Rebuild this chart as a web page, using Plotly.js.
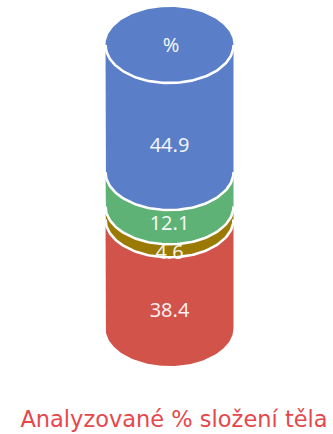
<!DOCTYPE html>
<html>
<head>
<meta charset="utf-8">
<script src="https://cdn.plot.ly/plotly-3.0.1.min.js"></script>
<style>
  html, body { margin: 0; padding: 0; background: #ffffff; }
  #chart { width: 333px; height: 434px; }
</style>
</head>
<body>
<div id="chart"></div>
<script>
// Body composition shares, stacked from the bottom of the cylinder upwards
const segmentValues = [38.4, 4.6, 12.1, 44.9];
const segmentLabels = segmentValues.map(v => v.toFixed(1));
const capLabel = '%';
const chartTitle = 'Analyzované % složení těla';

// Styling
const segmentColors = ['#d2534a', '#9a7a03', '#5fb275', '#5a7fc8'];
const labelColor = 'rgba(255,255,255,0.93)';
const titleColor = '#e5484c';
const labelSize = 20;

// Cylinder geometry: x axis runs 0..333, y axis is in percentage units
const W = 333, H = 434;
const cx = 169.5, rx = 64;
const pxPerUnit = 2.83;
const baseRow = 328;                 // pixel row where y = 0 sits
const ry = 38 / pxPerUnit;           // vertical semi-axis of the ellipses
const yRange = [-(H - baseRow) / pxPerUnit, baseRow / pxPerUnit];

function lowerArc(y0, n = 80) {
  const xs = [], ys = [];
  for (let i = 0; i <= n; i++) {
    const a = Math.PI + Math.PI * i / n;
    xs.push(cx + rx * Math.cos(a));
    ys.push(y0 + ry * Math.sin(a));
  }
  return { xs, ys };
}
function upperArc(y0, n = 80) {
  const xs = [], ys = [];
  for (let i = 0; i <= n; i++) {
    const a = Math.PI * i / n;
    xs.push(cx + rx * Math.cos(a));
    ys.push(y0 + ry * Math.sin(a));
  }
  return { xs, ys };
}

const traces = [];
const seams = [];
const bandMid = [];
let base = 0;
segmentValues.forEach((v, i) => {
  const top = base + v;
  const isTop = i === segmentValues.length - 1;
  const low = lowerArc(base);
  let xs = [cx - rx].concat(low.xs, [cx + rx]);
  let ys = [top].concat(low.ys, [top]);
  if (isTop) {
    const up = upperArc(top);
    xs = xs.concat(up.xs);
    ys = ys.concat(up.ys);
  } else {
    xs.push(cx - rx);
    ys.push(top);
  }
  traces.push({
    type: 'scatter', mode: 'lines', x: xs, y: ys,
    fill: 'toself', fillcolor: segmentColors[i],
    line: { width: 0, color: segmentColors[i] },
    hoverinfo: 'skip'
  });
  if (i > 0) seams.push(low);
  if (isTop) seams.push(lowerArc(top));
  // middle of the visible front band of this segment
  bandMid.push((base + top) / 2 - ry);
  base = top;
});
const stackTop = base;

// keep neighbouring labels from colliding on thin segments
const minGap = 29 / pxPerUnit;
const labelY = bandMid.slice();
for (let i = 1; i < labelY.length; i++) {
  const gap = labelY[i] - labelY[i - 1];
  if (gap < minGap) {
    const push = (minGap - gap) / 2;
    labelY[i] += push;
    labelY[i - 1] -= push;
  }
}

seams.forEach(s => traces.push({
  type: 'scatter', mode: 'lines', x: s.xs, y: s.ys,
  line: { color: '#ffffff', width: 2.6 },
  hoverinfo: 'skip'
}));

traces.push({
  type: 'scatter', mode: 'text',
  x: segmentValues.map(() => cx).concat([cx + 1.5]),
  y: labelY.concat([stackTop - 0.8]),
  text: segmentLabels.concat([capLabel]),
  textposition: 'middle center',
  textfont: { family: 'Noto Sans, Open Sans, sans-serif', size: labelSize, color: labelColor },
  hoverinfo: 'skip'
});

const layout = {
  width: W, height: H,
  margin: { l: 0, r: 0, t: 0, b: 0 },
  paper_bgcolor: '#ffffff', plot_bgcolor: '#ffffff',
  showlegend: false,
  xaxis: { range: [0, W], visible: false, fixedrange: true },
  yaxis: { range: yRange, visible: false, fixedrange: true },
  title: {
    text: chartTitle,
    font: { family: 'DejaVu Sans, Liberation Sans, sans-serif', size: 22.5, color: titleColor },
    x: 174 / W, xanchor: 'center',
    y: 1 - 419 / H, yanchor: 'middle',
    xref: 'container', yref: 'container'
  }
};

Plotly.newPlot('chart', traces, layout, { staticPlot: true, displayModeBar: false });
</script>
</body>
</html>
